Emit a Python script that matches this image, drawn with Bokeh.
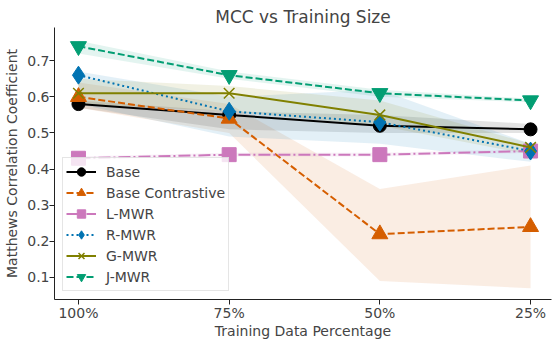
from bokeh.plotting import figure
from bokeh.models import Range1d, FixedTicker, Legend
from bokeh.embed import file_html
from bokeh.resources import INLINE

x_labels = ["100%", "75%", "50%", "25%"]
x = [0, 1, 2, 3]

base = [0.58, 0.55, 0.52, 0.51]
base_lo = [0.57, 0.51, 0.50, 0.50]
base_hi = [0.59, 0.56, 0.55, 0.525]

bcon = [0.60, 0.54, 0.22, 0.24]
bcon_lo = [0.57, 0.50, 0.09, 0.07]
bcon_hi = [0.64, 0.58, 0.345, 0.41]

lmwr = [0.43, 0.44, 0.44, 0.45]
lmwr_lo = [0.425, 0.435, 0.435, 0.445]
lmwr_hi = [0.435, 0.445, 0.445, 0.455]

rmwr = [0.66, 0.56, 0.53, 0.45]
rmwr_lo = [0.58, 0.49, 0.47, 0.42]
rmwr_hi = [0.67, 0.60, 0.62, 0.47]

gmwr = [0.61, 0.61, 0.55, 0.46]
gmwr_lo = [0.58, 0.56, 0.52, 0.44]
gmwr_hi = [0.65, 0.63, 0.59, 0.47]

jmwr = [0.74, 0.66, 0.61, 0.59]
jmwr_lo = [0.72, 0.65, 0.60, 0.585]
jmwr_hi = [0.755, 0.67, 0.62, 0.595]

series = [
    ("Base", base, base_lo, base_hi, "#000000", "solid", "circle", 13),
    ("Base Contrastive", bcon, bcon_lo, bcon_hi, "#d55e00", "7 3", "triangle", 16),
    ("L-MWR", lmwr, lmwr_lo, lmwr_hi, "#cc78bc", "12 3 2 3", "square", 14),
    ("R-MWR", rmwr, rmwr_lo, rmwr_hi, "#0173b2", "2 3", "diamond", 18),
    ("G-MWR", gmwr, gmwr_lo, gmwr_hi, "#808000", "solid", "x", 15),
    ("J-MWR", jmwr, jmwr_lo, jmwr_hi, "#029e73", "7 3", "inverted_triangle", 16),
]

FONT = "DejaVu Sans"

p = figure(width=556, height=341, output_backend="svg", toolbar_location=None,
           x_range=Range1d(-0.159, 3.139), y_range=Range1d(0.039, 0.792),
           title="MCC vs Training Size")
p.min_border_left = 54
p.min_border_right = 5
p.min_border_bottom = 0
p.min_border_top = 27
p.outline_line_color = None
p.xgrid.visible = False
p.ygrid.visible = False

p.title.align = "center"
p.title.text_font = FONT
p.title.text_font_size = "17px"
p.title.text_font_style = "normal"
p.title.standoff = 2

p.xaxis.ticker = FixedTicker(ticks=x)
p.xaxis.major_label_overrides = {i: l for i, l in zip(x, x_labels)}
p.yaxis.ticker = FixedTicker(ticks=[0.1, 0.2, 0.3, 0.4, 0.5, 0.6, 0.7])
p.xaxis.axis_label = "Training Data Percentage"
p.yaxis.axis_label = "Matthews Correlation Coefficient"
for ax in (p.xaxis, p.yaxis):
    ax.axis_label_text_font = FONT
    ax.axis_label_text_font_size = "14px"
    ax.axis_label_text_font_style = "normal"
    ax.major_label_text_font = FONT
    ax.major_label_text_font_size = "14px"
    ax.minor_tick_line_color = None
    ax.major_tick_in = 0
    ax.major_tick_out = 5
    ax.axis_line_color = "#222222"
    ax.major_tick_line_color = "#222222"
p.xaxis.major_label_standoff = 0
p.xaxis.axis_label_standoff = -1
p.yaxis.major_label_standoff = 0
p.yaxis.axis_label_standoff = 4

items = []
for name, ys, lo, hi, col, dash, marker, size in series:
    p.varea(x=x, y1=lo, y2=hi, fill_color=col, fill_alpha=0.11)

for name, ys, lo, hi, col, dash, marker, size in series:
    r1 = p.line(x, ys, line_color=col, line_width=2, line_dash=dash)
    if marker == "x":
        r2 = p.scatter(x, ys, marker=marker, size=size, line_color=col, line_width=1.5)
    else:
        r2 = p.scatter(x, ys, marker=marker, size=size, fill_color=col, line_color=col)
    items.append((name, [r1, r2]))

legend = Legend(items=items, location="bottom_left")
legend.margin = 8
legend.padding = 3
legend.spacing = 0
legend.label_height = 21
legend.glyph_height = 21
legend.glyph_width = 30
legend.label_standoff = 10
legend.label_text_font = FONT
legend.label_text_font_size = "14px"
legend.border_line_color = "#cccccc"
legend.background_fill_alpha = 0.8
p.add_layout(legend, "center")

open("out.html", "w").write(file_html(p, INLINE))
